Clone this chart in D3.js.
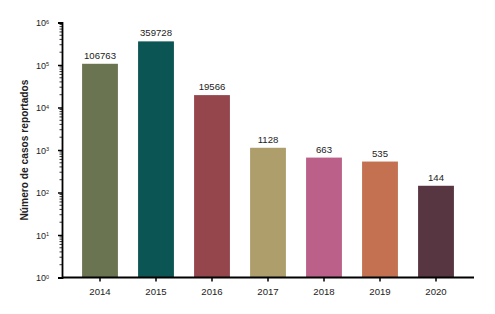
<!DOCTYPE html>
<html>
<head>
<meta charset="utf-8">
<script src="https://cdn.jsdelivr.net/npm/d3@7"></script>
<style>
  body { margin: 0; background: #fff; }
  text { font-family: "Liberation Sans", Arial, sans-serif; fill: #222; }
</style>
</head>
<body>
<div id="container"></div>
<script>
/* DATA */
const years = ["2014", "2015", "2016", "2017", "2018", "2019", "2020"];
const cases = [106763, 359728, 19566, 1128, 663, 535, 144];
const colors = ["#6a7450", "#0b5655", "#94464c", "#ad9e6c", "#bb6088", "#c37150", "#583641"];
const yTicks = [1, 10, 100, 1000, 10000, 100000, 1000000];

/* CONSTANTS */
const width = 495, height = 314;
const margin = { top: 22.5, bottom: 36.5, left: 62, right: 21 };

const svg = d3.select("#container")
  .append("svg")
  .attr("width", width)
  .attr("height", height);

/* SCALES */
const xScale = d3.scaleBand()
  .domain(years)
  .range([72, 464])
  .paddingInner(0.36)
  .paddingOuter(0.18);

const yScale = d3.scaleLog()
  .domain([1, 1e6])
  .range([height - margin.bottom, margin.top]);

// bars
svg.selectAll("rect.bar")
  .data(years)
  .join("rect")
  .attr("class", "bar")
  .attr("x", d => xScale(d))
  .attr("width", xScale.bandwidth())
  .attr("y", (d, i) => yScale(cases[i]))
  .attr("height", (d, i) => yScale(1) - yScale(cases[i]))
  .attr("fill", (d, i) => colors[i]);

// value labels
svg.selectAll("text.value")
  .data(years)
  .join("text")
  .attr("class", "value")
  .attr("x", d => xScale(d) + xScale.bandwidth() / 2)
  .attr("y", (d, i) => yScale(cases[i]) - 5)
  .attr("text-anchor", "middle")
  .attr("font-size", 9.6)
  .text((d, i) => cases[i]);

// minor ticks
const minor = [];
for (let e = 0; e < 6; e++) {
  for (let k = 2; k < 10; k++) minor.push(k * Math.pow(10, e));
}
svg.append("g")
  .selectAll("line")
  .data(minor)
  .join("line")
  .attr("x1", margin.left - 2.5)
  .attr("x2", margin.left)
  .attr("y1", d => yScale(d))
  .attr("y2", d => yScale(d))
  .attr("stroke", "#000")
  .attr("stroke-width", 0.8);

// y axis
const yAxis = d3.axisLeft(yScale)
  .tickValues(yTicks)
  .tickSize(4)
  .tickPadding(9)
  .tickFormat("");

const gy = svg.append("g")
  .attr("transform", `translate(${margin.left},0)`)
  .call(yAxis);
gy.select(".domain").attr("stroke-width", 1.8);
gy.selectAll(".tick line").attr("stroke-width", 1.5);

gy.selectAll(".tick").append("text")
  .attr("x", -13)
  .attr("dy", "0.35em")
  .attr("text-anchor", "end")
  .attr("font-size", 9)
  .attr("fill", "#222")
  .each(function(d) {
    const t = d3.select(this);
    t.append("tspan").text("10");
    t.append("tspan")
      .attr("dy", "-0.45em")
      .attr("font-size", 5.5)
      .text(Math.round(Math.log10(d)));
  });

// x axis
const xAxis = d3.axisBottom(xScale)
  .tickSize(4)
  .tickPadding(7)
  .tickSizeOuter(0);

const gx = svg.append("g")
  .attr("transform", `translate(0,${height - margin.bottom})`)
  .call(xAxis);
gx.select(".domain")
  .attr("d", `M${margin.left},0H${width - margin.right}`)
  .attr("stroke-width", 1.8);
gx.selectAll(".tick line").attr("stroke-width", 1.5);
gx.selectAll(".tick text")
  .attr("font-size", 9.6)
  .attr("fill", "#222")
  .style("font-family", "Liberation Sans, Arial, sans-serif");

// y title
svg.append("text")
  .attr("transform", `translate(28,${(margin.top + height - margin.bottom) / 2}) rotate(-90)`)
  .attr("text-anchor", "middle")
  .attr("font-size", 10.2)
  .attr("font-weight", "bold")
  .attr("fill", "#333")
  .text("Número de casos reportados");
</script>
</body>
</html>
